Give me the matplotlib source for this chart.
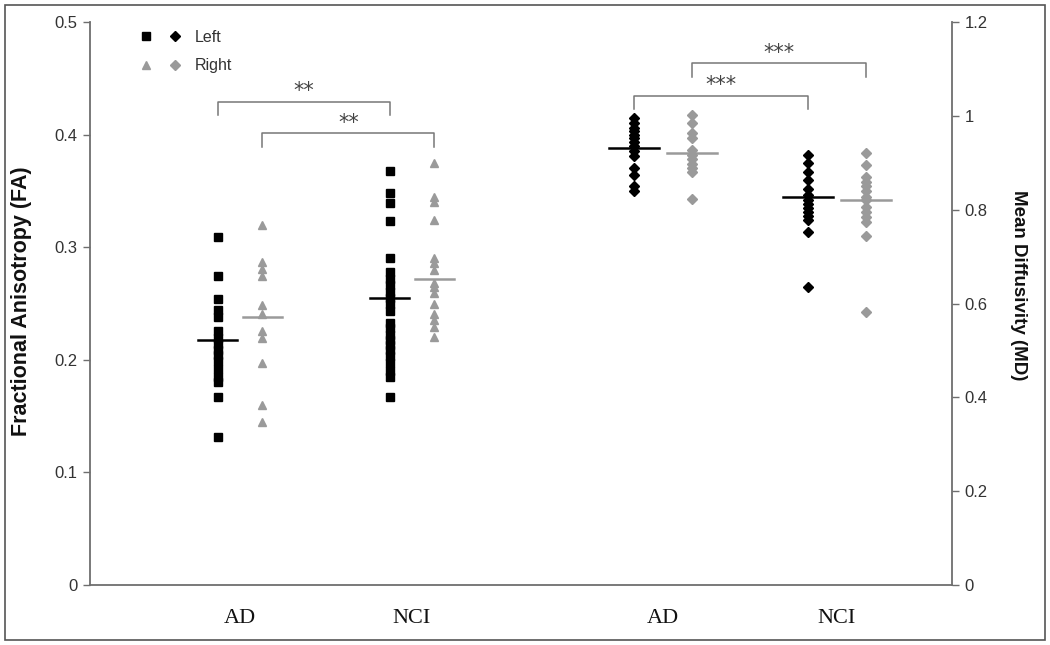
import matplotlib
matplotlib.use("Agg")
import matplotlib.pyplot as plt
from matplotlib.lines import Line2D
from matplotlib.legend_handler import HandlerTuple
from matplotlib.patches import Rectangle

# ---------------- data ----------------
categories = ["AD", "NCI", "AD", "NCI"]

fa_ad_left = [0.309, 0.274, 0.254, 0.244, 0.238, 0.226, 0.219, 0.214, 0.209,
              0.204, 0.199, 0.192, 0.185, 0.180, 0.167, 0.131]
fa_ad_right = [0.320, 0.287, 0.281, 0.274, 0.249, 0.241, 0.226, 0.219, 0.197,
               0.160, 0.145]
fa_nci_left = [0.368, 0.348, 0.339, 0.323, 0.290, 0.278, 0.272, 0.266, 0.260,
               0.255, 0.250, 0.243, 0.233, 0.228, 0.222, 0.218, 0.213, 0.209,
               0.203, 0.197, 0.190, 0.185, 0.167]
fa_nci_right = [0.3745, 0.345, 0.340, 0.324, 0.290, 0.286, 0.280, 0.268, 0.265,
                0.259, 0.250, 0.241, 0.235, 0.229, 0.2205]

md_ad_left = [0.995, 0.985, 0.975, 0.968, 0.960, 0.952, 0.945, 0.935, 0.925,
              0.915, 0.888, 0.873, 0.850, 0.840]
md_ad_right = [1.002, 0.984, 0.963, 0.952, 0.927, 0.916, 0.908, 0.898, 0.889,
               0.881, 0.822]
md_nci_left = [0.916, 0.899, 0.881, 0.863, 0.845, 0.831, 0.821, 0.812, 0.804,
               0.795, 0.786, 0.778, 0.753, 0.636]
md_nci_right = [0.920, 0.895, 0.870, 0.860, 0.850, 0.840, 0.828, 0.820, 0.806,
                0.795, 0.785, 0.774, 0.744, 0.582]

fa_means = [0.218, 0.238, 0.2546, 0.2715]   # AD-L, AD-R, NCI-L, NCI-R
md_means = [0.931, 0.920, 0.828, 0.820]     # AD-L, AD-R, NCI-L, NCI-R

fa_ticks = [0, 0.1, 0.2, 0.3, 0.4, 0.5]
fa_ticklabels = ["0", "0.1", "0.2", "0.3", "0.4", "0.5"]
md_ticks = [0, 0.2, 0.4, 0.6, 0.8, 1.0, 1.2]
md_ticklabels = ["0", "0.2", "0.4", "0.6", "0.8", "1", "1.2"]

# ---------------- layout ----------------
centers = [1.0, 2.0, 3.46, 4.47]
fa_off = 0.13
md_off = 0.17

BLACK = "#000000"
GRAY = "#9a9a9a"
AXC = "#6e6e6e"
TXT = "#333333"

fig = plt.figure(figsize=(10.5, 6.45), dpi=100)
ax = fig.add_axes([90/1050, 60/645, 862/1050, 563/645])
ax2 = ax.twinx()

ms = 5.2
# FA (left axis)
ax.plot([centers[0]-fa_off]*len(fa_ad_left), fa_ad_left, ls="none", marker="s",
        color=BLACK, ms=ms)
ax.plot([centers[0]+fa_off]*len(fa_ad_right), fa_ad_right, ls="none", marker="^",
        color=GRAY, ms=ms+0.6)
ax.plot([centers[1]-fa_off]*len(fa_nci_left), fa_nci_left, ls="none", marker="s",
        color=BLACK, ms=ms)
ax.plot([centers[1]+fa_off]*len(fa_nci_right), fa_nci_right, ls="none", marker="^",
        color=GRAY, ms=ms+0.6)

# MD (right axis)
ax2.plot([centers[2]-md_off]*len(md_ad_left), md_ad_left, ls="none", marker="D",
         color=BLACK, ms=4.6)
ax2.plot([centers[2]+md_off]*len(md_ad_right), md_ad_right, ls="none", marker="D",
         color=GRAY, ms=4.6)
ax2.plot([centers[3]-md_off]*len(md_nci_left), md_nci_left, ls="none", marker="D",
         color=BLACK, ms=4.6)
ax2.plot([centers[3]+md_off]*len(md_nci_right), md_nci_right, ls="none", marker="D",
         color=GRAY, ms=4.6)

# mean lines
fa_x = [centers[0]-fa_off, centers[0]+fa_off, centers[1]-fa_off, centers[1]+fa_off]
cols = [BLACK, GRAY, BLACK, GRAY]
for x, m, c in zip(fa_x, fa_means, cols):
    ax.plot([x-0.115, x+0.115], [m, m], color=c, lw=1.8)
md_x = [centers[2]-md_off, centers[2]+md_off, centers[3]-md_off, centers[3]+md_off]
for x, m, c in zip(md_x, md_means, cols):
    ax2.plot([x-0.145, x+0.145], [m, m], color=c, lw=1.8)

# significance brackets
def bracket(a, x1, x2, y, drop, text, ty):
    a.plot([x1, x1, x2, x2], [y-drop, y, y, y-drop], color="#777777", lw=1.1)
    a.text((x1+x2)/2, ty, text, ha="center", va="center", fontsize=15,
           color="#444444", family="DejaVu Sans")

bracket(ax, fa_x[0], fa_x[2], 0.4292, 0.012, "**", 0.4385)
bracket(ax, fa_x[1], fa_x[3], 0.4011, 0.012, "**", 0.4105)
bracket(ax2, md_x[1], md_x[3], 1.112, 0.029, "***", 1.134)
bracket(ax2, md_x[0], md_x[2], 1.043, 0.029, "***", 1.065)

# axes styling
ax.set_xlim(0.128, 5.1396)
ax.set_ylim(0, 0.5)
ax2.set_ylim(0, 1.2)
ax.set_yticks(fa_ticks)
ax.set_yticklabels(fa_ticklabels)
ax2.set_yticks(md_ticks)
ax2.set_yticklabels(md_ticklabels)
ax.set_xticks(centers)
ax.set_xticklabels(categories, family="Liberation Serif", fontsize=16, color="#111111")
ax.tick_params(axis="x", length=0, pad=17)
for a in (ax, ax2):
    a.tick_params(axis="y", direction="out", length=5, width=1.0, color=AXC,
                  labelsize=12, labelcolor=TXT, pad=4)
    a.spines["top"].set_visible(False)
    for s in ("left", "right", "bottom"):
        a.spines[s].set_color(AXC)
        a.spines[s].set_linewidth(1.3)
    for lab in a.get_yticklabels():
        lab.set_family("Liberation Sans")
ax2.spines["left"].set_visible(False)
ax2.spines["bottom"].set_visible(False)
ax.spines["right"].set_visible(False)

ax.set_ylabel("Fractional Anisotropy (FA)", family="Liberation Sans", fontsize=15.5,
              fontweight="bold", color="#111111", ha="center", va="center")
ax.yaxis.set_label_coords(-0.0789, 0.504)
ax2.set_ylabel("Mean Diffusivity (MD)", family="Liberation Sans", fontsize=13.5,
               fontweight="bold", color="#111111", rotation=-90,
               ha="center", va="center")
ax2.yaxis.set_label_coords(1.0777, 0.533)

# legend
h_sq = Line2D([], [], ls="none", marker="s", color=BLACK, ms=ms)
h_di = Line2D([], [], ls="none", marker="D", color=BLACK, ms=4.6)
h_tr = Line2D([], [], ls="none", marker="^", color=GRAY, ms=ms)
h_dg = Line2D([], [], ls="none", marker="D", color=GRAY, ms=4.6)
leg = ax.legend([(h_sq, h_di), (h_tr, h_dg)], ["Left", "Right"],
                handler_map={tuple: HandlerTuple(ndivide=None, pad=0)},
                loc="upper left", bbox_to_anchor=(0.032, 1.012), frameon=False,
                numpoints=1, handlelength=3.6, handletextpad=0.35, labelspacing=0.85,
                prop={"family": "Liberation Sans", "size": 11.5})
for t in leg.get_texts():
    t.set_color(TXT)

# outer frame
fig.add_artist(Rectangle((5/1050, 5/645), 1040/1050, 635/645, transform=fig.transFigure,
                         fill=False, edgecolor="#555555", lw=1.2))

fig.savefig("out.png", dpi=100)
